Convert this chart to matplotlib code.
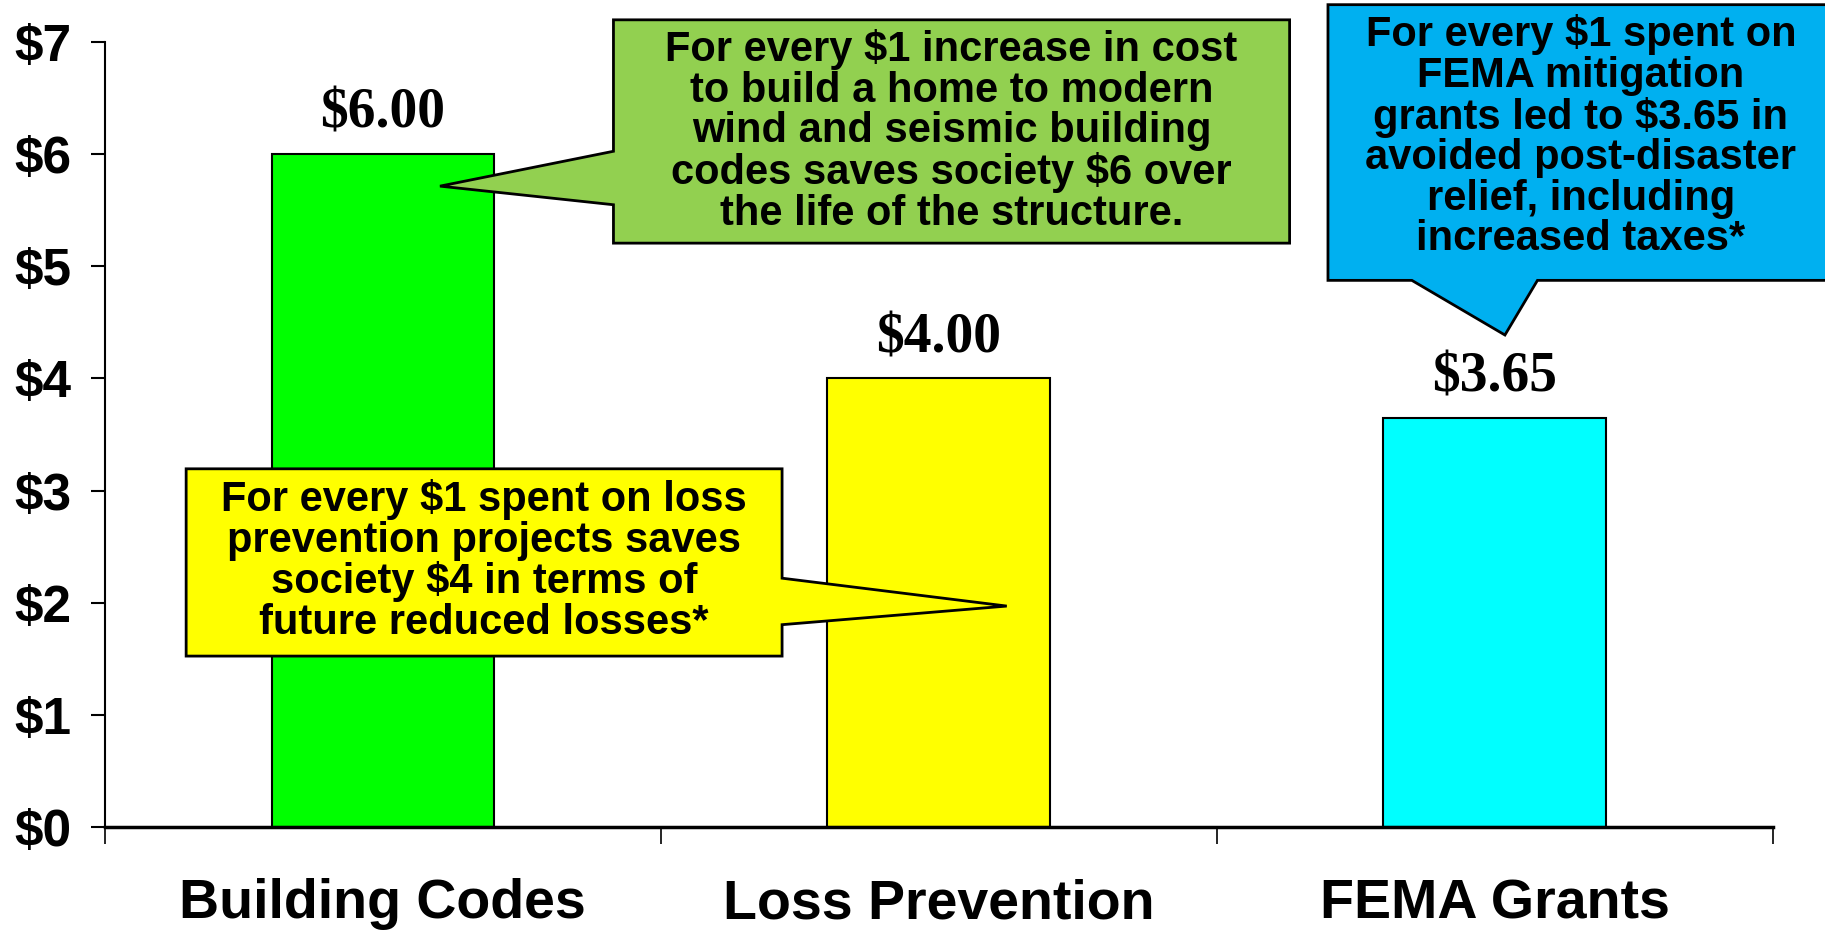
import matplotlib
matplotlib.use("Agg")
import matplotlib.pyplot as plt
from matplotlib.patches import Polygon

# ---- data ----
categories = ["Building Codes", "Loss Prevention", "FEMA Grants"]
values = [6.00, 4.00, 3.65]
value_labels = ["$6.00", "$4.00", "$3.65"]
bar_colors = ["#00FF00", "#FFFF00", "#00FFFF"]
ytick_values = [0, 1, 2, 3, 4, 5, 6, 7]
ytick_labels = ["$0", "$1", "$2", "$3", "$4", "$5", "$6", "$7"]

callout_texts = [
    "For every $1 increase in cost\nto build a home to modern\nwind and seismic building\ncodes saves society $6 over\nthe life of the structure.",
    "For every $1 spent on loss\nprevention projects saves\nsociety $4 in terms of\nfuture reduced losses*",
    "For every $1 spent on\nFEMA mitigation\ngrants led to $3.65 in\navoided post-disaster\nrelief, including\nincreased taxes*",
]
callout_colors = ["#92D050", "#FFFF00", "#00B0F0"]

SANS = "Liberation Sans"
SERIF = "Liberation Serif"

fig = plt.figure(figsize=(18.25, 9.33), dpi=100)
ax = fig.add_axes([0.0574, 0.1135, 0.9713 - 0.0574, 0.9551 - 0.1135])

x = list(range(len(categories)))
bars = ax.bar(x, values, width=0.40, color=bar_colors, edgecolor="black",
              linewidth=1.5, zorder=2)

for xi, v, lab in zip(x, values, value_labels):
    ax.annotate(lab, xy=(xi, v), xytext=(0, 19), textcoords="offset points",
                ha="center", va="baseline", fontsize=40, fontweight="bold",
                family=SERIF, zorder=3)

ax.set_xlim(-0.5, len(categories) - 0.5)
ax.set_ylim(0, 7)

for s in ["top", "right"]:
    ax.spines[s].set_visible(False)
ax.spines["left"].set_linewidth(1.5)
ax.spines["bottom"].set_linewidth(2.5)

ax.set_yticks(ytick_values, ytick_labels)
ax.tick_params(axis="y", direction="out", length=10, width=1.5, pad=14,
               labelsize=37)
for t in ax.get_yticklabels():
    t.set_fontweight("bold")
    t.set_family(SANS)

ax.set_xticks(x, categories)
ax.set_xticks([i - 0.5 for i in range(len(categories) + 1)], minor=True)
ax.tick_params(axis="x", which="major", length=0, pad=37, labelsize=40)
ax.tick_params(axis="x", which="minor", direction="out", length=12, width=1.2)
for t in ax.get_xticklabels():
    t.set_fontweight("bold")
    t.set_family(SANS)

T = ax.transAxes

# callout shapes in axes-fraction coordinates (layout only)
shapes = [
    # green: box with pointer from left edge
    [(0.3050, 1.0281), (0.7104, 1.0281), (0.7104, 0.7437), (0.3050, 0.7437),
     (0.3050, 0.7926), (0.2010, 0.8163), (0.3050, 0.8607)],
    # yellow: box with pointer from right edge
    [(0.0488, 0.4563), (0.4061, 0.4563), (0.4061, 0.3170), (0.5408, 0.2815),
     (0.4061, 0.2578), (0.4061, 0.2178), (0.0488, 0.2178)],
    # blue: box with pointer from bottom edge
    [(0.7334, 1.0474), (1.0400, 1.0474), (1.0400, 0.6963), (0.8590, 0.6963),
     (0.8395, 0.6267), (0.7837, 0.6963), (0.7334, 0.6963)],
]
text_pos = [(0.5077, 0.886), (0.2275, 0.339), (0.885, 0.879)]

for verts, col, txt, (tx, ty) in zip(shapes, callout_colors, callout_texts, text_pos):
    poly = Polygon(verts, closed=True, facecolor=col, edgecolor="black",
                   linewidth=2, transform=T, clip_on=False, zorder=5)
    ax.add_patch(poly)
    ax.text(tx, ty, txt, transform=T, ha="center", va="center",
            multialignment="center", fontsize=30, fontweight="bold",
            family=SANS, linespacing=1.02, zorder=6, clip_on=False)

fig.savefig("out.png", dpi=100)
